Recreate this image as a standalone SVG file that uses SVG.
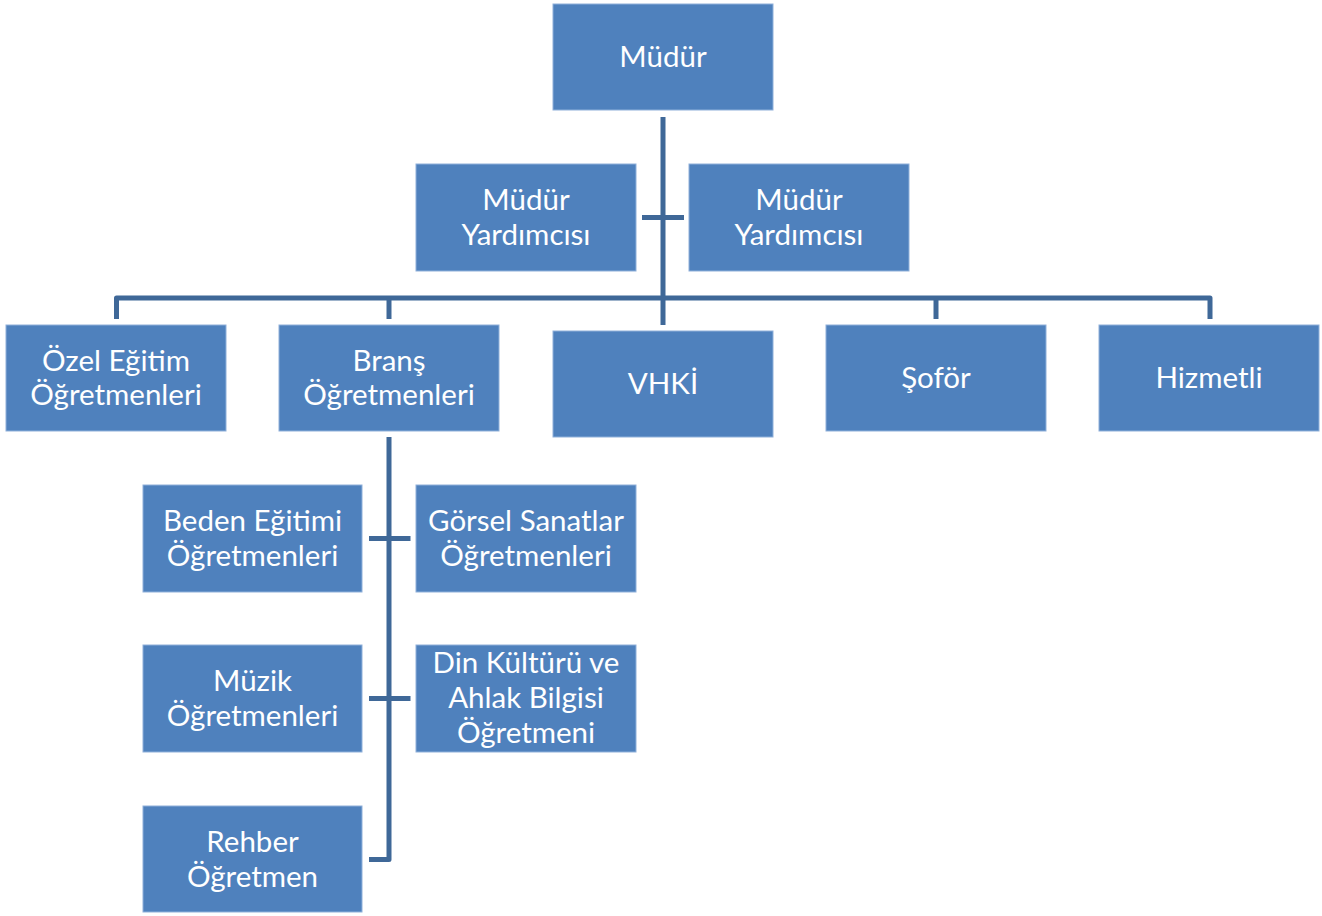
<svg xmlns="http://www.w3.org/2000/svg" width="1322" height="916" viewBox="0 0 1322 916">
<style>
.box{fill:#4F81BD;stroke:#8FB0DA;stroke-width:1}
.t{fill:#FFFFFF;font-family:Lato,"Open Sans","DejaVu Sans",sans-serif;font-size:29.5px;text-anchor:middle}
.c{fill:none;stroke:#3F6898;stroke-width:5;stroke-linejoin:round}
</style>
<rect width="1322" height="916" fill="#FFFFFF"/>
<g id="connectors">
<line class="c" x1="663" y1="117" x2="663" y2="325"/>
<line class="c" x1="642" y1="217.5" x2="684" y2="217.5"/>
<path class="c" d="M116.5 319 V298 H1210 V319"/>
<line class="c" x1="389" y1="298" x2="389" y2="319"/>
<line class="c" x1="936" y1="298" x2="936" y2="319"/>
<path class="c" d="M389 437 V859.5 H369"/>
<line class="c" x1="369" y1="538.5" x2="410.5" y2="538.5"/>
<line class="c" x1="369" y1="698.5" x2="410.5" y2="698.5"/>
</g>
<g id="mudur"><rect class="box" x="553" y="4" width="220" height="106"/><text class="t" x="663" y="67">Müdür</text></g>
<g id="yard1"><rect class="box" x="416" y="164" width="220" height="107"/><text class="t" x="526" y="210">Müdür</text><text class="t" x="526" y="245">Yardımcısı</text></g>
<g id="yard2"><rect class="box" x="689" y="164" width="220" height="107"/><text class="t" x="799" y="210">Müdür</text><text class="t" x="799" y="245">Yardımcısı</text></g>
<g id="ozel"><rect class="box" x="6" y="325" width="220" height="106"/><text class="t" x="116" y="371">Özel Eğitim</text><text class="t" x="116" y="405">Öğretmenleri</text></g>
<g id="brans"><rect class="box" x="279" y="325" width="220" height="106"/><text class="t" x="389" y="371">Branş</text><text class="t" x="389" y="405">Öğretmenleri</text></g>
<g id="vhki"><rect class="box" x="553" y="331" width="220" height="106"/><text class="t" x="663" y="394">VHKİ</text></g>
<g id="sofor"><rect class="box" x="826" y="325" width="220" height="106"/><text class="t" x="936" y="388">Şoför</text></g>
<g id="hizmetli"><rect class="box" x="1099" y="325" width="220" height="106"/><text class="t" x="1209" y="388">Hizmetli</text></g>
<g id="beden"><rect class="box" x="143" y="485" width="219" height="107"/><text class="t" x="252.5" y="531">Beden Eğitimi</text><text class="t" x="252.5" y="566">Öğretmenleri</text></g>
<g id="gorsel"><rect class="box" x="416" y="485" width="220" height="107"/><text class="t" x="526" y="531">Görsel Sanatlar</text><text class="t" x="526" y="566">Öğretmenleri</text></g>
<g id="muzik"><rect class="box" x="143" y="645" width="219" height="107"/><text class="t" x="252.5" y="691">Müzik</text><text class="t" x="252.5" y="726">Öğretmenleri</text></g>
<g id="din"><rect class="box" x="416" y="645" width="220" height="107"/><text class="t" x="526" y="673">Din Kültürü ve</text><text class="t" x="526" y="708">Ahlak Bilgisi</text><text class="t" x="526" y="743">Öğretmeni</text></g>
<g id="rehber"><rect class="box" x="143" y="806" width="219" height="106"/><text class="t" x="252.5" y="852">Rehber</text><text class="t" x="252.5" y="887">Öğretmen</text></g>
</svg>
